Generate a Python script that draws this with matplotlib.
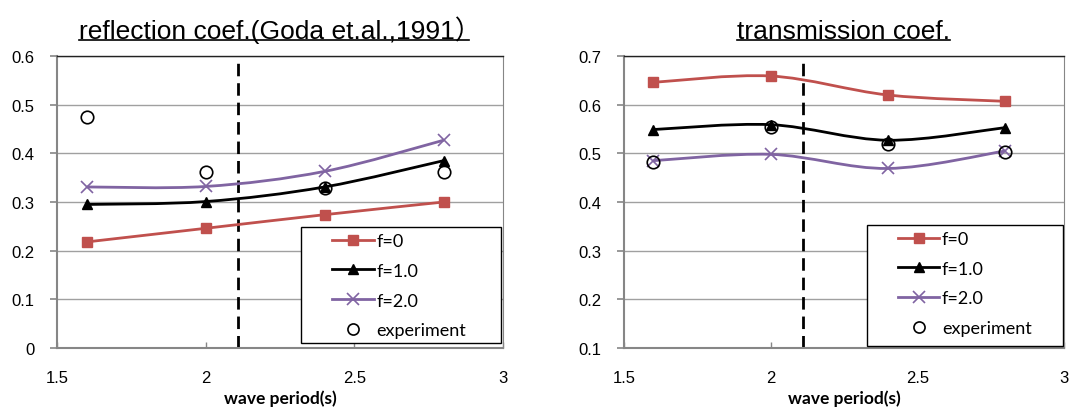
import matplotlib
matplotlib.use("Agg")
import matplotlib.pyplot as plt
from matplotlib.path import Path
from matplotlib.patches import PathPatch, Rectangle
from matplotlib.lines import Line2D
import numpy as np

# ---------------- data ----------------
periods = [1.6, 2.0, 2.4, 2.8]
series_labels = ["f=0", "f=1.0", "f=2.0"]
refl_f0 = [0.218, 0.246, 0.274, 0.300]
refl_f1 = [0.295, 0.301, 0.331, 0.385]
refl_f2 = [0.331, 0.332, 0.363, 0.427]
refl_exp = [0.475, 0.362, 0.329, 0.362]
trans_f0 = [0.646, 0.659, 0.620, 0.607]
trans_f1 = [0.549, 0.559, 0.527, 0.553]
trans_f2 = [0.485, 0.498, 0.469, 0.505]
trans_exp = [0.482, 0.554, 0.520, 0.503]
boundary_period = 2.11
titles = ["reflection coef.(Goda et.al.,1991\uff09", "transmission coef."]
xlabel = "wave period(s)"
xticks = [1.5, 2, 2.5, 3]
xticklabels = ["1.5", "2", "2.5", "3"]
refl_yticks = [0, 0.1, 0.2, 0.3, 0.4, 0.5, 0.6]
refl_yticklabels = ["0", "0.1", "0.2", "0.3", "0.4", "0.5", "0.6"]
trans_yticks = [0.1, 0.2, 0.3, 0.4, 0.5, 0.6, 0.7]
trans_yticklabels = ["0.1", "0.2", "0.3", "0.4", "0.5", "0.6", "0.7"]

RED = "#C0504D"
PURPLE = "#8064A2"
BLACK = "#000000"
GRID = "#A0A0A0"
AXIS = "#868686"

plt.rcParams["font.family"] = ["Liberation Sans", "Noto Sans CJK JP", "DejaVu Sans"]

fig = plt.figure(figsize=(10.78, 4.10), dpi=100)
ax1 = fig.add_axes([0.0529, 0.1488, 0.4137, 0.712])
ax2 = fig.add_axes([0.5788, 0.1488, 0.4082, 0.712])


def smooth_path(xs, ys):
    pts = np.column_stack([xs, ys]).astype(float)
    n = len(pts)
    verts = [pts[0]]
    codes = [Path.MOVETO]
    for i in range(n - 1):
        p0 = pts[i - 1] if i > 0 else pts[i]
        p1 = pts[i]
        p2 = pts[i + 1]
        p3 = pts[i + 2] if i + 2 < n else pts[i + 1]
        c1 = p1 + (p2 - p0) / 6.0
        c2 = p2 - (p3 - p1) / 6.0
        verts += [c1, c2, p2]
        codes += [Path.CURVE4] * 3
    return Path(verts, codes)


def draw_series(ax, ys, color, marker, ms, mew=1.0):
    ax.add_patch(PathPatch(smooth_path(periods, ys), facecolor="none",
                           edgecolor=color, lw=2.0, zorder=3))
    ax.plot(periods, ys, linestyle="none", marker=marker, ms=ms,
            color=color, mec=color, mew=mew, zorder=4)


def setup(ax, yticks, yticklabels, ylim, title):
    ax.set_xlim(1.5, 3.0)
    ax.set_ylim(*ylim)
    ax.set_xticks(xticks)
    ax.set_xticklabels(xticklabels, fontsize=12)
    ax.set_yticks(yticks)
    ax.set_yticklabels(yticklabels, fontsize=12)
    ax.yaxis.grid(True, color=GRID, lw=1.0, zorder=0)
    ax.set_axisbelow(True)
    for s in ["left", "bottom"]:
        ax.spines[s].set_color(AXIS)
        ax.spines[s].set_linewidth(1.5)
    ax.spines["right"].set_color(AXIS)
    ax.spines["right"].set_linewidth(0.8)
    ax.spines["top"].set_color("#222222")
    ax.spines["top"].set_linewidth(1.0)
    ax.tick_params(axis="y", direction="out", length=5, color=AXIS, width=1.2, pad=11)
    ax.tick_params(axis="x", direction="in", length=4, color=AXIS, width=1.0, pad=16)
    ax.set_xlabel(xlabel, family=["Lato", "DejaVu Sans"], fontweight="bold",
                  fontsize=12.5, labelpad=3)
    ax.set_title(title, fontsize=19, pad=13)
    ax.axvline(boundary_period, color="black", lw=2.0, ls=(0, (4.5, 2.5)), zorder=2)


def add_legend(ax, box):
    handles = [
        Line2D([], [], color=RED, lw=2, marker="s", ms=7.5),
        Line2D([], [], color=BLACK, lw=2, marker="^", ms=7.5),
        Line2D([], [], color=PURPLE, lw=2, marker="x", ms=8, mew=1.2),
        Line2D([], [], color="black", lw=0, marker="o", ms=8, mfc="none", mew=1.2),
    ]
    labels = series_labels + ["experiment"]
    x0, y0, x1, y1 = box
    ax.add_patch(Rectangle((x0, y0), x1 - x0, y1 - y0, transform=ax.transAxes,
                           facecolor="white", edgecolor="black", lw=1.0, zorder=5))
    leg = ax.legend(handles, labels, loc="upper left",
                    bbox_to_anchor=(x0 + 0.062, y1 - 0.008), frameon=False,
                    handlelength=2.3, handletextpad=0.15, labelspacing=0.76,
                    borderpad=0.2, borderaxespad=0,
                    prop={"family": ["Lato", "DejaVu Sans"], "size": 13})
    leg.set_zorder(6)


draw_series(ax1, refl_f0, RED, "s", 7.5)
draw_series(ax1, refl_f1, BLACK, "^", 7.5)
draw_series(ax1, refl_f2, PURPLE, "x", 8, mew=1.2)
ax1.plot(periods, refl_exp, linestyle="none", marker="o", ms=9, mfc="none",
         mec="black", mew=1.2, zorder=5)
setup(ax1, refl_yticks, refl_yticklabels, (0, 0.6), titles[0])
add_legend(ax1, (0.547, 0.017, 0.996, 0.414))

draw_series(ax2, trans_f0, RED, "s", 7.5)
draw_series(ax2, trans_f1, BLACK, "^", 7.5)
draw_series(ax2, trans_f2, PURPLE, "x", 8, mew=1.2)
ax2.plot(periods, trans_exp, linestyle="none", marker="o", ms=9, mfc="none",
         mec="black", mew=1.2, zorder=5)
setup(ax2, trans_yticks, trans_yticklabels, (0.1, 0.7), titles[1])
add_legend(ax2, (0.552, 0.007, 0.998, 0.421))

# underline titles
fig.canvas.draw()
renderer = fig.canvas.get_renderer()
inv = fig.transFigure.inverted()
for ax, trim in ((ax1, 12), (ax2, 0)):
    bb = ax.title.get_window_extent(renderer)
    (fx0, fy0), (fx1, fy1) = inv.transform([(bb.x0, bb.y0 + 3), (bb.x1 - trim, bb.y0 + 3)])
    fig.add_artist(Line2D([fx0, fx1], [fy0, fy1], transform=fig.transFigure,
                          color="black", lw=1.2))

fig.savefig("out.png", dpi=100)
